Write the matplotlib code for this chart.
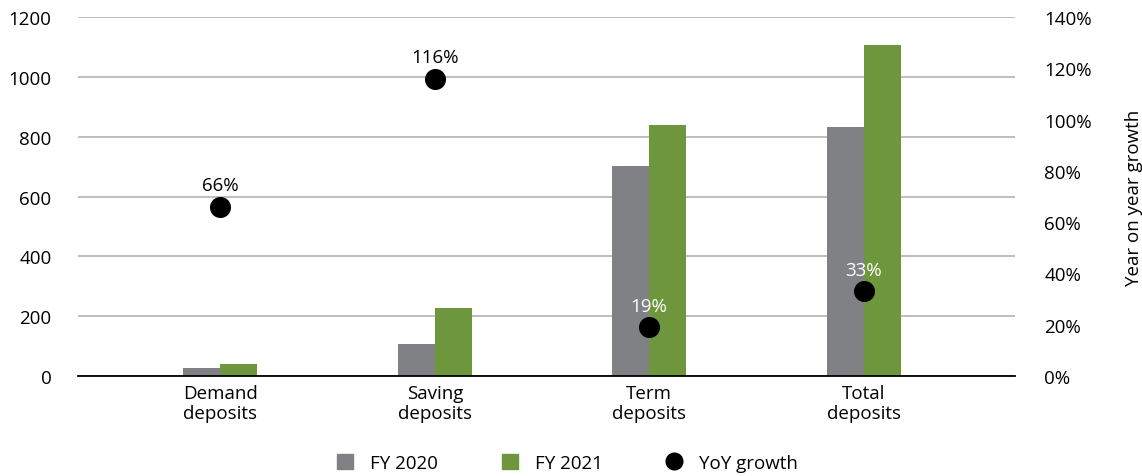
import numpy as np
import matplotlib.pyplot as plt
from matplotlib.lines import Line2D
from matplotlib.patches import Patch

plt.rcParams['font.family'] = ['Open Sans', 'DejaVu Sans']

categories = ["Demand\ndeposits", "Saving\ndeposits", "Term\ndeposits", "Total\ndeposits"]
fy2020 = [27, 107, 703, 833]
fy2021 = [41, 228, 838, 1107]
yoy = [0.66, 1.16, 0.19, 0.33]
yoy_labels = ["66%", "116%", "19%", "33%"]
label_colors = ["black", "black", "white", "white"]

gray = "#808184"
green = "#6E963C"

fig = plt.figure(figsize=(11.42, 4.77), dpi=100)
ax = fig.add_axes([0.0683, 0.2096, 0.8205, 0.7527])
ax2 = ax.twinx()

x = np.arange(len(categories))
w = 0.172
ax.bar(x - w / 2, fy2020, w, color=gray, zorder=2)
ax.bar(x + w / 2, fy2021, w, color=green, zorder=2)

ax.set_xlim(-0.664, 3.706)
ax.set_ylim(0, 1200)
ax.set_yticks(range(0, 1201, 200))
ax.grid(axis="y", color="#b3b3b3", linewidth=1.2, zorder=0)
ax.set_xticks(x)
ax.set_xticklabels(categories, fontsize=13.5, linespacing=1.15)
ax.tick_params(axis="x", length=0, pad=6)
ax.tick_params(axis="y", length=0, pad=19, labelsize=13.5)
for s in ["top", "right", "left"]:
    ax.spines[s].set_visible(False)
ax.spines["bottom"].set_color("black")
ax.spines["bottom"].set_linewidth(1.3)
ax.spines["bottom"].set_zorder(3)

ax2.scatter(x, yoy, s=200, color="black", zorder=5)
for xi, v, lab, c in zip(x, yoy, yoy_labels, label_colors):
    ax2.annotate(lab, (xi, v), xytext=(0, 9), textcoords="offset points",
                 ha="center", va="bottom", fontsize=13.5, color=c)
ax2.set_ylim(0, 1.4)
ax2.set_yticks(np.arange(0, 1.41, 0.2))
ax2.set_yticklabels([f"{int(round(t * 100))}%" for t in np.arange(0, 1.41, 0.2)])
ax2.tick_params(axis="y", length=0, pad=21, labelsize=13.5)
ax2.set_ylabel("Year on year growth", fontsize=13.5, labelpad=24)
for s in ["top", "right", "left", "bottom"]:
    ax2.spines[s].set_visible(False)

handles = [
    Patch(color=gray, label="FY 2020"),
    Patch(color=green, label="FY 2021"),
    Line2D([], [], marker="o", linestyle="", color="black", markersize=12, label="YoY growth"),
]
fig.legend(handles=handles, loc="center", bbox_to_anchor=(0.497, 0.028), ncol=3,
           frameon=False, fontsize=13.5, handlelength=0.85, handleheight=0.85,
           columnspacing=3.4, handletextpad=0.9)

fig.savefig("out.png", dpi=100)
